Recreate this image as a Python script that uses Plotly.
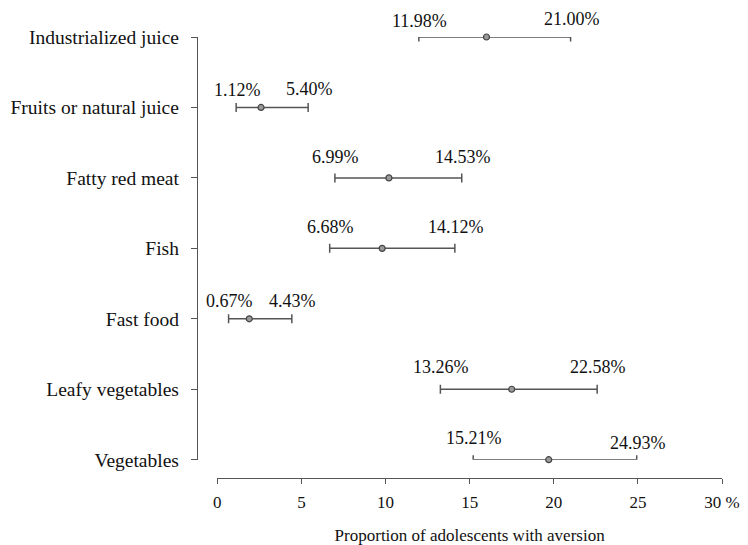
import plotly.graph_objects as go

# ---- data (top-to-bottom order as shown) ----
categories = ["Industrialized juice", "Fruits or natural juice", "Fatty red meat",
              "Fish", "Fast food", "Leafy vegetables", "Vegetables"]
point_est = [16.0, 2.6, 10.2, 9.8, 1.9, 17.5, 19.7]
ci_low = [11.98, 1.12, 6.99, 6.68, 0.67, 13.26, 15.21]
ci_high = [21.00, 5.40, 14.53, 14.12, 4.43, 22.58, 24.93]
x_tick_vals = [0, 5, 10, 15, 20, 25, 30]
x_tick_text = ["0", "5", "10", "15", "20", "25", "30 %"]
x_title = "Proportion of adolescents with aversion"

# ---- styles ----
SERIF = "'Times New Roman', 'Liberation Serif', 'DejaVu Serif', serif"
INK = "#111111"
BAR = "#555555"
AXIS = "#555555"
# vertical pixel offsets of the CI labels above each bar (low, high)
low_shift = [16, 17, 21, 21, 18, 22, 22]
high_shift = [18, 18, 21, 21, 18, 22, 17]

fig = go.Figure()
fig.add_trace(go.Scatter(
    x=point_est, y=categories, mode="markers",
    marker=dict(symbol="circle", size=6, color="#9a9a9a",
                line=dict(color="#444444", width=1.2)),
    error_x=dict(type="data", symmetric=False,
                 array=[h - p for h, p in zip(ci_high, point_est)],
                 arrayminus=[p - l for p, l in zip(point_est, ci_low)],
                 color=BAR, thickness=1.5, width=4.5),
    cliponaxis=False, showlegend=False, hoverinfo="skip",
))

annotations = []
for i, cat in enumerate(categories):
    for val, ys in ((ci_low[i], low_shift[i]), (ci_high[i], high_shift[i])):
        annotations.append(dict(
            x=val, y=cat, xref="x", yref="y", text=f"{val:.2f}%",
            showarrow=False, xanchor="center", yanchor="middle",
            xshift=1, yshift=ys, font=dict(family=SERIF, size=18, color=INK)))

# page has an 8px body margin: figure drawn from (8, 8)
W, H = 740, 537
L, R, T, B = 189, 26.3, 29.3, 66.7
plot_w = W - L - R
plot_h = H - T - B

fig.update_layout(
    width=W, height=H, autosize=False,
    margin=dict(l=L, r=R, t=T, b=B, pad=0, autoexpand=False),
    plot_bgcolor="white", paper_bgcolor="white",
    font=dict(family=SERIF, color=INK),
    annotations=annotations,
    xaxis=dict(
        domain=[(209.3 - L) / plot_w, 1], anchor="free", position=0,
        range=[0, 30], tickvals=x_tick_vals, ticktext=x_tick_text,
        showline=True, linecolor=AXIS, linewidth=1.3,
        ticks="outside", ticklen=5, tickwidth=1.3, tickcolor=AXIS,
        showgrid=False, zeroline=False, automargin=False,
        tickfont=dict(family=SERIF, size=17, color=INK),
        ticklabelstandoff=3,
        title=dict(text=x_title, font=dict(family=SERIF, size=17, color=INK),
                   standoff=20),
    ),
    yaxis=dict(
        domain=[(H - B - 452) / plot_h, 1], anchor="free", position=0,
        type="category", categoryorder="array",
        categoryarray=list(reversed(categories)), range=[0, 6],
        showline=True, linecolor=AXIS, linewidth=1.3,
        ticks="outside", ticklen=6, tickwidth=1.3, tickcolor=AXIS,
        showgrid=False, zeroline=False, automargin=False,
        tickfont=dict(family=SERIF, size=19.5, color=INK),
        ticklabelstandoff=8,
    ),
)

fig.write_html("out.html")
